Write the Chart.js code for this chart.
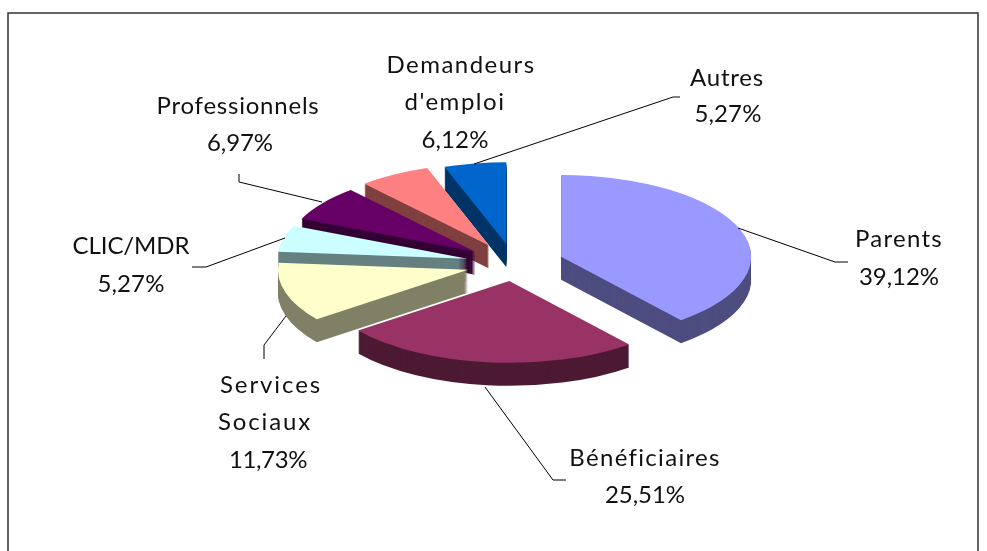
<!DOCTYPE html>
<html>
<head>
<meta charset="utf-8">
<title>Répartition</title>
<script src="https://cdn.jsdelivr.net/npm/chart.js@4/dist/chart.umd.min.js"></script>
<style>
    html, body { margin: 0; padding: 0; background: #fff; }
    canvas { display: block; }
</style>
</head>
<body>
<canvas id="pie" width="987" height="551"></canvas>
<script>
const categories = ["Parents", "Bénéficiaires", "Services Sociaux", "CLIC/MDR", "Professionnels", "Demandeurs d'emploi", "Autres"];
const shares = [39.12, 25.51, 11.73, 5.27, 6.97, 6.12, 5.27];
const topColors = ["#9999ff", "#993366", "#ffffcc", "#ccffff", "#660066", "#ff8080", "#0066cc"];
const sideColors = ["#4d4d80", "#4d1a33", "#808066", "#668080", "#330033", "#804040", "#003366"];

// back to front, so the walls overlap the right way
const drawOrder = [6, 5, 4, 3, 0, 2, 1];

// how far each slice is pulled out of the pie
const explode = [50, 40, 48, 48, 48, 50, 47];

// label lines: text, centre x, y, width on the picture
const labelLines = [
    [["Parents", 899, 239, 88], ["39,12%", 899, 277, 80]],
    [["Bénéficiaires", 645, 458, 151], ["25,51%", 645, 495, 80]],
    [["Services", 271, 385, 102], ["Sociaux", 265, 422, 94], ["11,73%", 268, 460, 78]],
    [["CLIC/MDR", 131, 246, 117], ["5,27%", 131, 284, 67]],
    [["Professionnels", 238, 106, 163], ["6,97%", 240, 143, 66]],
    [["Demandeurs", 461, 65, 149], ["d'emploi", 455, 102, 101], ["6,12%", 455, 140, 67]],
    [["Autres", 727, 78, 74], ["5,27%", 728, 114, 67]]
];
const leaders = [
    [[738, 228], [835, 262], [848, 262]],
    [[485, 387], [553, 480], [566, 480]],
    [[286, 316], [264, 345], [264, 359]],
    [[285, 238], [206, 267], [192, 267]],
    [[322, 202], [239, 182], [239, 174]],
    null,
    [[474, 164], [673, 97], [680, 97]]
];

const pieCenter = { x: 514, y: 264 };
const tilt = 0.43;
const depth = 23;

// Squash the flat pie and stack copies of it to get the 3D look
const pie3d = {
    id: "pie3d",
    beforeDatasetDraw(chart, args) {
        const ctx = chart.ctx;
        const arcs = args.meta.data;
        drawOrder.forEach(i => {
            const arc = arcs[i];
            const opts = arc.options;
            arc.options = Object.assign({}, opts, { backgroundColor: sideColors[i], borderWidth: 0 });
            for (let dy = depth; dy > 0; dy--) {
                drawArc(ctx, arc, explode[i], dy);
            }
            arc.options = Object.assign({}, opts, { backgroundColor: topColors[i], borderWidth: 0 });
            drawArc(ctx, arc, explode[i], 0);
            arc.options = opts;
        });
        return false;
    },
    beforeDraw(chart) {
        // frame, open at the bottom
        const ctx = chart.ctx;
        ctx.save();
        ctx.strokeStyle = "#333";
        ctx.lineWidth = 1.5;
        ctx.beginPath();
        ctx.moveTo(8, 551);
        ctx.lineTo(8, 13);
        ctx.lineTo(978, 13);
        ctx.lineTo(978, 551);
        ctx.stroke();
        ctx.restore();
    },
    afterDraw(chart) {
        const ctx = chart.ctx;
        ctx.save();
        ctx.strokeStyle = "#000";
        ctx.lineWidth = 1;
        leaders.forEach(pts => {
            if (!pts) return;
            ctx.beginPath();
            pts.forEach((p, i) => i ? ctx.lineTo(p[0], p[1]) : ctx.moveTo(p[0], p[1]));
            ctx.stroke();
        });
        ctx.fillStyle = "#111";
        ctx.font = "24px Lato";
        ctx.textAlign = "center";
        ctx.textBaseline = "middle";
        labelLines.forEach(lines => {
            lines.forEach(l => {
                // stretch each line to the width it has on the picture
                ctx.letterSpacing = "0px";
                const gap = (l[3] - ctx.measureText(l[0]).width) / l[0].length;
                ctx.letterSpacing = gap.toFixed(2) + "px";
                ctx.fillText(l[0], l[1], l[2]);
            });
        });
        ctx.restore();
    }
};

// The offset option also grows the radius of narrow slices, so move them here instead
function drawArc(ctx, arc, dist, dy) {
    const mid = (arc.startAngle + arc.endAngle) / 2;
    ctx.save();
    ctx.translate(pieCenter.x, pieCenter.y + dy);
    ctx.scale(1, tilt);
    ctx.translate(Math.cos(mid) * dist - arc.x, Math.sin(mid) * dist - arc.y);
    arc.draw(ctx);
    ctx.restore();
}

new Chart(document.getElementById("pie"), {
    type: "pie",
    data: {
        labels: categories,
        datasets: [{
            data: shares,
            backgroundColor: topColors,
            borderWidth: 0,
            clip: false
        }]
    },
    options: {
        responsive: false,
        animation: false,
        radius: 190,
        events: [],
        plugins: {
            legend: { display: false },
            tooltip: { enabled: false }
        }
    },
    plugins: [pie3d]
});
</script>
</body>
</html>
